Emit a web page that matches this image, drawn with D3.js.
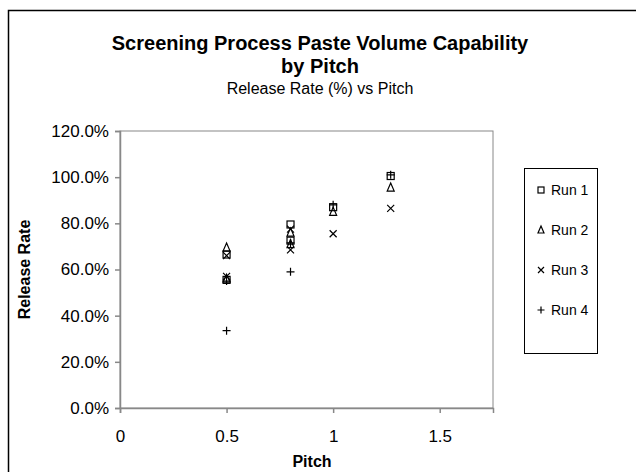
<!DOCTYPE html>
<html>
<head>
<meta charset="utf-8">
<script src="https://cdn.jsdelivr.net/npm/d3@7"></script>
<style>
  body { margin: 0; background: #fff; }
  text { font-family: "Liberation Sans", Arial, sans-serif; fill: #000; }
</style>
</head>
<body>
<div id="chart"></div>
<script>
var width = 636;
var height = 472;

// data: pitch (mm) and release rate (%) per run
var pitch = [0.5, 0.5, 0.8, 0.8, 1.0, 1.27];
var run1 = [66.5, 55.5, 79.5, 72.5, 87.0, 100.5];
var run2 = [69.5, 56.0, 76.0, 71.0, 85.0, 95.5];
var run3 = [66.0, 57.0, 77.5, 68.5, 75.5, 86.5];
var run4 = [33.5, 55.0, 59.0, 71.5, 88.0, 101.0];
var runNames = ["Run 1", "Run 2", "Run 3", "Run 4"];
var xTicks = [0, 0.5, 1, 1.5];
var yTicks = [0, 20, 40, 60, 80, 100, 120];

var svg = d3.select("#chart").append("svg")
    .attr("width", width)
    .attr("height", height);

// chart area border
svg.append("rect")
    .attr("x", 8.5).attr("y", 10.5)
    .attr("width", 640).attr("height", 480)
    .attr("fill", "#fff").attr("stroke", "#000").attr("stroke-width", 1.5);

// titles
svg.append("text").attr("x", 320).attr("y", 50)
    .attr("text-anchor", "middle").attr("font-size", 20).attr("font-weight", "bold")
    .text("Screening Process Paste Volume Capability");
svg.append("text").attr("x", 320).attr("y", 73)
    .attr("text-anchor", "middle").attr("font-size", 20).attr("font-weight", "bold")
    .text("by Pitch");
svg.append("text").attr("x", 320).attr("y", 94)
    .attr("text-anchor", "middle").attr("font-size", 16)
    .text("Release Rate (%) vs Pitch");

var plot = { left: 120, top: 131, right: 493, bottom: 408 };

var x = d3.scaleLinear().domain([0, 1.75]).range([plot.left, plot.right]);
var y = d3.scaleLinear().domain([0, 120]).range([plot.bottom, plot.top]);

// plot area border
svg.append("rect")
    .attr("x", plot.left).attr("y", plot.top)
    .attr("width", plot.right - plot.left).attr("height", plot.bottom - plot.top)
    .attr("fill", "none").attr("stroke", "#888").attr("stroke-width", 1);

var xAxis = d3.axisBottom(x).tickValues(xTicks).tickSize(5).tickPadding(17)
    .tickFormat(function (d) { return d3.format("")(d); });
var gx = svg.append("g").attr("transform", "translate(0," + plot.bottom + ")").call(xAxis);

var yAxis = d3.axisLeft(y).tickValues(yTicks).tickSize(5).tickPadding(6)
    .tickFormat(function (d) { return d3.format(".1f")(d) + "%"; });
var gy = svg.append("g").attr("transform", "translate(" + plot.left + ",0)").call(yAxis);

[gx, gy].forEach(function (g) {
    g.select(".domain").attr("stroke", "#888").attr("stroke-width", 1.5);
    g.selectAll(".tick line").attr("stroke", "#888").attr("stroke-width", 1.5);
    g.selectAll(".tick text").attr("font-size", 17)
        .attr("font-family", "Liberation Sans, Arial, sans-serif").attr("fill", "#000");
});

// axis titles
svg.append("text").attr("x", 312).attr("y", 467)
    .attr("text-anchor", "middle").attr("font-size", 16).attr("font-weight", "bold")
    .text("Pitch");
svg.append("text")
    .attr("transform", "translate(30," + ((plot.top + plot.bottom) / 2) + ") rotate(-90)")
    .attr("text-anchor", "middle").attr("font-size", 16).attr("font-weight", "bold")
    .text("Release Rate");

// marker shapes
function marker(g, type, s) {
    var h = s / 2;
    if (type === 0) {
        g.append("rect").attr("x", -h).attr("y", -h).attr("width", s).attr("height", s);
    } else if (type === 1) {
        g.append("path").attr("d", "M0," + (-h - 1) + "L" + h + "," + h + "L" + (-h) + "," + h + "Z");
    } else if (type === 2) {
        g.append("path").attr("d", "M" + (-h) + "," + (-h) + "L" + h + "," + h + "M" + h + "," + (-h) + "L" + (-h) + "," + h);
    } else {
        g.append("path").attr("d", "M" + (-h - 0.5) + ",0L" + (h + 0.5) + ",0M0," + (-h - 0.5) + "L0," + (h + 0.5));
    }
    g.selectAll("*").attr("fill", "none").attr("stroke", "#000").attr("stroke-width", 1.2);
}

var runs = [run1, run2, run3, run4];
runs.forEach(function (vals, r) {
    var pts = svg.append("g").classed("run" + (r + 1), true);
    vals.forEach(function (v, i) {
        var g = pts.append("g").attr("transform", "translate(" + x(pitch[i]) + "," + y(v) + ")");
        marker(g, r, 7);
    });
});

// legend
var legend = svg.append("g");
legend.append("rect")
    .attr("x", 524.5).attr("y", 168.5).attr("width", 73).attr("height", 185)
    .attr("fill", "#fff").attr("stroke", "#000").attr("stroke-width", 1);
runNames.forEach(function (name, i) {
    var yy = 190 + i * 40;
    var g = legend.append("g").attr("transform", "translate(541," + yy + ")");
    marker(g, i, 6);
    legend.append("text").attr("x", 551).attr("y", yy + 5)
        .attr("font-size", 14).text(name);
});
</script>
</body>
</html>
